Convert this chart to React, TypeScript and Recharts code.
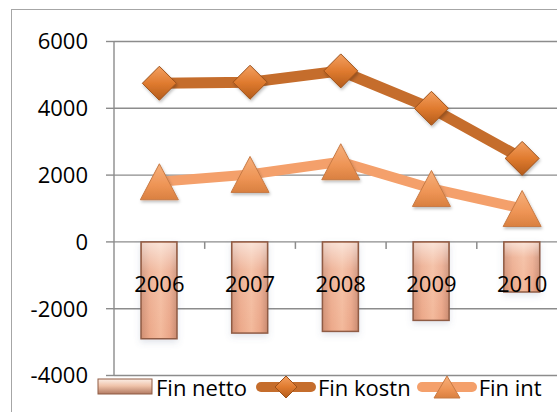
import { Bar, CartesianGrid, ComposedChart, Legend, Line, XAxis, YAxis } from 'recharts';

const years = ['2006', '2007', '2008', '2009', '2010'];
const finNetto = [-2900, -2730, -2680, -2350, -1500];
const finKostn = [4750, 4780, 5120, 4000, 2500];
const finInt = [1800, 2020, 2400, 1600, 1000];
const yTicks = [-4000, -2000, 0, 2000, 4000, 6000];
const seriesOrder = ['Fin netto', 'Fin kostn', 'Fin int'];

const data = years.map((year, i) => ({
  year,
  'Fin netto': finNetto[i],
  'Fin kostn': finKostn[i],
  'Fin int': finInt[i],
}));

const FONT = '"Open Sans", sans-serif';
const GRID = '#8c8c8c';
const KOSTN = '#c56d2c';
const INT = '#f4a06b';

const CHART_W = 620;
const CHART_H = 412;
const TOP = 41.5;
const BOTTOM = 375.5;
const LEFT = 114;
const RIGHT = 567.5;
const Y_MIN = yTicks[0];
const Y_MAX = yTicks[yTicks.length - 1];
const zeroY = TOP + ((BOTTOM - TOP) * Y_MAX) / (Y_MAX - Y_MIN);
const band = (RIGHT - LEFT) / years.length;

function YearTick(props: any) {
  const { x, payload, index } = props;
  return (
    <g>
      {index > 0 && <line x1={x - band / 2} x2={x - band / 2} y1={zeroY} y2={zeroY + 7} stroke={GRID} strokeWidth={1.5} />}
      <text x={x} y={zeroY + 42} dy="0.355em" textAnchor="middle" fontSize={22} fontFamily={FONT} fill="#000">
        {payload.value}
      </text>
    </g>
  );
}

function BarShape(props: any) {
  const { x, y, width, height } = props;
  // negative values come with a negative height
  const top = height < 0 ? y + height : y;
  const h = Math.abs(height);
  return (
    <g filter="url(#barShadow)">
      <rect x={x} y={top} width={width} height={h} fill="url(#barFill)" stroke="#8f5c45" strokeWidth={1.5} />
      <rect x={x + 1} y={top + 1} width={width - 2} height={Math.max(h - 2, 0)} fill="url(#barShine)" />
    </g>
  );
}

function Diamond(props: any) {
  const { cx, cy } = props;
  if (cx == null || cy == null) return null;
  const r = 17;
  return (
    <polygon
      points={`${cx},${cy - r} ${cx + r},${cy} ${cx},${cy + r} ${cx - r},${cy}`}
      fill="url(#diamondFill)"
      stroke="#9c5019"
      strokeWidth={1}
      filter="url(#softShadow)"
    />
  );
}

function Triangle(props: any) {
  const { cx, cy } = props;
  if (cx == null || cy == null) return null;
  const w = 19;
  const h = 18;
  return (
    <polygon
      points={`${cx},${cy - h} ${cx + w},${cy + h} ${cx - w},${cy + h}`}
      fill="url(#triFill)"
      stroke="#c77a45"
      strokeWidth={1}
      filter="url(#softShadow)"
    />
  );
}

function LegendIcon({ name }: { name: string }) {
  if (name === 'Fin netto') {
    return (
      <svg width={56} height={20} style={{ marginRight: 3 }}>
        <rect x={1} y={2} width={54} height={15} fill="url(#legendBar)" stroke="#8f5c45" strokeWidth={1} />
      </svg>
    );
  }
  const color = name === 'Fin kostn' ? KOSTN : INT;
  return (
    <svg width={60} height={24} style={{ marginRight: 2 }}>
      <line x1={5} x2={55} y1={12} y2={12} stroke={color} strokeWidth={10} strokeLinecap="round" />
      {name === 'Fin kostn' ? (
        <polygon points="30,1 41,12 30,23 19,12" fill="url(#diamondFill)" stroke="#9c5019" strokeWidth={1} />
      ) : (
        <polygon points="30,1 43,23 17,23" fill="url(#triFill)" stroke="#c77a45" strokeWidth={1} />
      )}
    </svg>
  );
}

function LegendContent(props: any) {
  const items = [...(props.payload || [])].sort(
    (a: any, b: any) => seriesOrder.indexOf(a.value) - seriesOrder.indexOf(b.value),
  );
  return (
    <div style={{ display: 'flex', alignItems: 'center', height: 30 }}>
      {items.map((p: any, i: number) => (
        <div key={p.value} style={{ display: 'flex', alignItems: 'center', marginRight: i === 0 ? 9 : 6 }}>
          <LegendIcon name={p.value} />
          <span style={{ fontFamily: FONT, fontSize: 22, color: '#000', lineHeight: '30px' }}>{p.value}</span>
        </div>
      ))}
    </div>
  );
}

export default function App() {
  return (
    <div style={{ position: 'fixed', left: 0, top: 0, width: 557, height: 412, overflow: 'hidden', background: '#fff' }}>
      <div style={{ position: 'absolute', left: 11, top: 9, width: 700, height: 600, border: '1px solid #a6a6a6' }} />
      <div style={{ position: 'absolute', left: 0, top: 0 }}>
        <ComposedChart
          width={CHART_W}
          height={CHART_H}
          data={data}
          margin={{ top: TOP, right: CHART_W - RIGHT, bottom: 0, left: 0 }}
        >
          <defs>
            <linearGradient id="barFill" x1="0" y1="0" x2="1" y2="0">
              <stop offset="0%" stopColor="#cf8e72" />
              <stop offset="25%" stopColor="#eca98a" />
              <stop offset="55%" stopColor="#f3b99b" />
              <stop offset="80%" stopColor="#eaa688" />
              <stop offset="100%" stopColor="#c98a70" />
            </linearGradient>
            <linearGradient id="barShine" x1="0" y1="0" x2="0" y2="1">
              <stop offset="0%" stopColor="#ffffff" stopOpacity={0.6} />
              <stop offset="30%" stopColor="#ffffff" stopOpacity={0.15} />
              <stop offset="100%" stopColor="#ffffff" stopOpacity={0} />
            </linearGradient>
            <linearGradient id="legendBar" x1="0" y1="0" x2="0" y2="1">
              <stop offset="0%" stopColor="#fbeee6" />
              <stop offset="45%" stopColor="#f0c4ab" />
              <stop offset="100%" stopColor="#b27a62" />
            </linearGradient>
            <linearGradient id="diamondFill" x1="0" y1="0" x2="0" y2="1">
              <stop offset="0%" stopColor="#f3a062" />
              <stop offset="50%" stopColor="#e07b2f" />
              <stop offset="100%" stopColor="#b35c1c" />
            </linearGradient>
            <linearGradient id="triFill" x1="0" y1="0" x2="0" y2="1">
              <stop offset="0%" stopColor="#f6b07c" />
              <stop offset="60%" stopColor="#ee9455" />
              <stop offset="100%" stopColor="#d98040" />
            </linearGradient>
            <filter id="softShadow" x="-30%" y="-30%" width="160%" height="160%">
              <feDropShadow dx="1" dy="2" stdDeviation="1.5" floodColor="#000" floodOpacity="0.25" />
            </filter>
            <filter id="barShadow" x="-30%" y="-10%" width="160%" height="130%">
              <feDropShadow dx="0" dy="3" stdDeviation="3" floodColor="#5a7090" floodOpacity="0.18" />
            </filter>
          </defs>
          <CartesianGrid vertical={false} stroke={GRID} strokeWidth={1.4} />
          <XAxis
            dataKey="year"
            axisLine={false}
            tickLine={false}
            height={CHART_H - BOTTOM}
            interval={0}
            tick={<YearTick />}
          />
          <YAxis
            width={LEFT}
            domain={[Y_MIN, Y_MAX]}
            ticks={yTicks}
            axisLine={{ stroke: GRID, strokeWidth: 1.4 }}
            tickLine={{ stroke: GRID, strokeWidth: 1.4 }}
            tickSize={8}
            tickMargin={18}
            tick={{ fontSize: 22, fontFamily: FONT, fill: '#000' }}
          />
          <Bar dataKey="Fin netto" barSize={36} shape={<BarShape />} isAnimationActive={false} />
          <Line
            dataKey="Fin kostn"
            stroke={KOSTN}
            strokeWidth={11}
            strokeLinejoin="round"
            dot={<Diamond />}
            activeDot={false}
            isAnimationActive={false}
          />
          <Line
            dataKey="Fin int"
            stroke={INT}
            strokeWidth={10}
            strokeLinejoin="round"
            dot={<Triangle />}
            activeDot={false}
            isAnimationActive={false}
          />
          <Legend
            layout="horizontal"
            verticalAlign="middle"
            align="center"
            content={<LegendContent />}
            wrapperStyle={{ top: 372, left: 97, width: 'auto' }}
          />
        </ComposedChart>
      </div>
    </div>
  );
}
